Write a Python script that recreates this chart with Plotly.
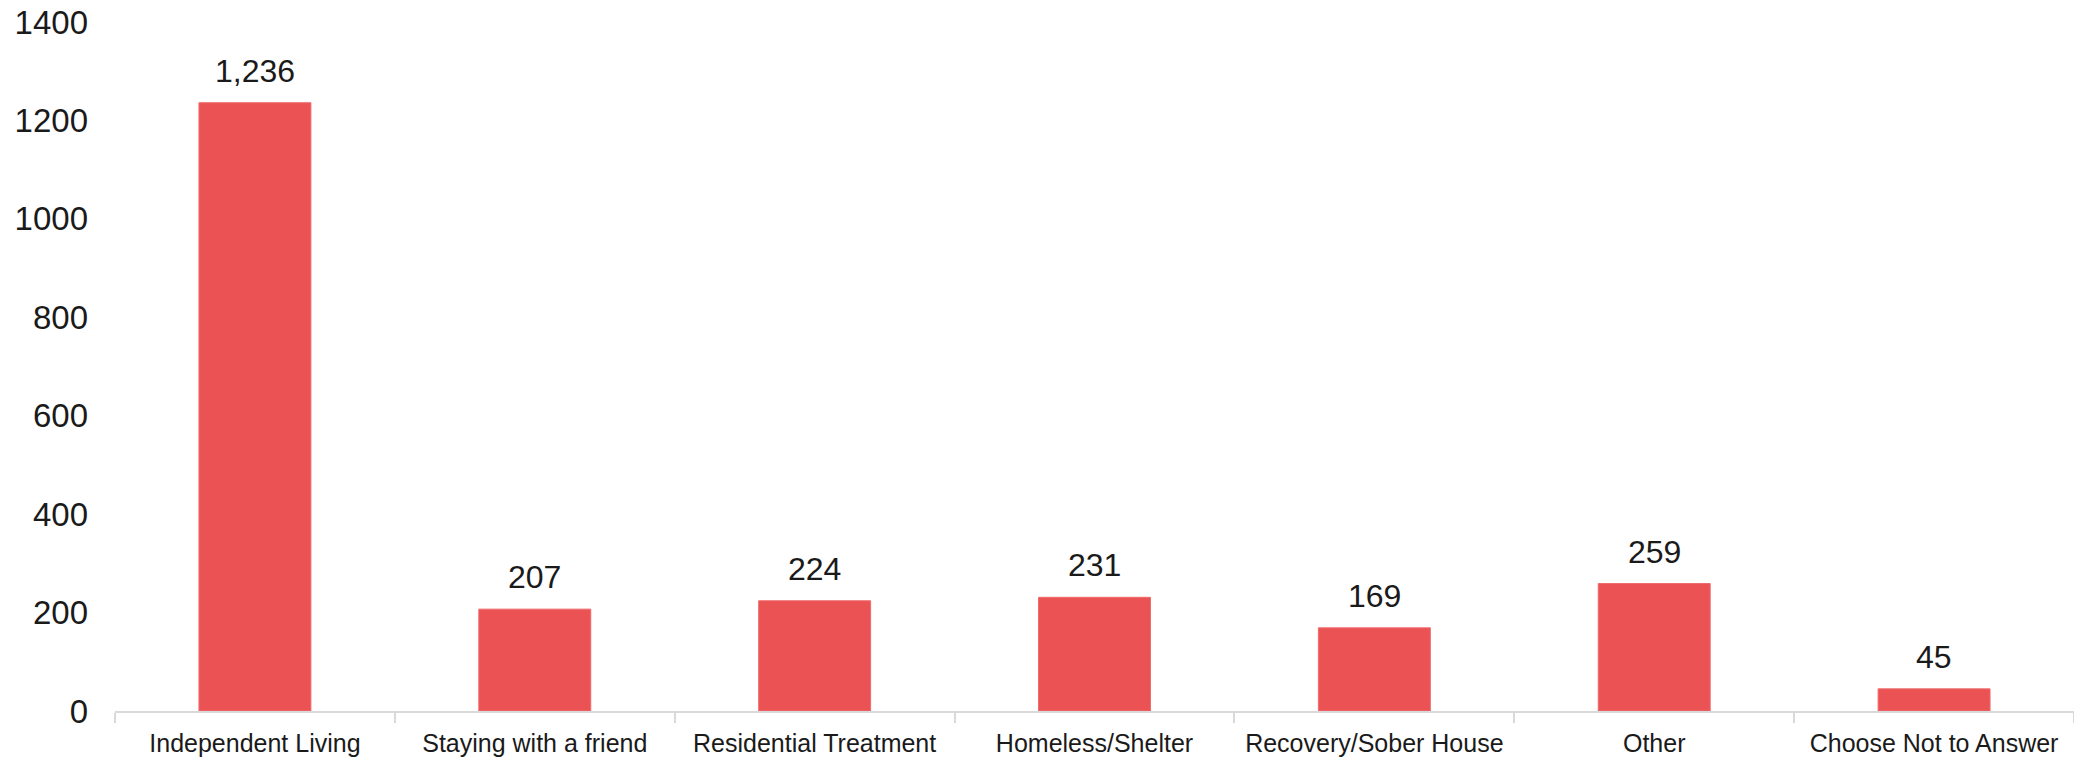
import plotly.graph_objects as go

categories = ["Independent Living", "Staying with a friend", "Residential Treatment",
              "Homeless/Shelter", "Recovery/Sober House", "Other", "Choose Not to Answer"]
values = [1236, 207, 224, 231, 169, 259, 45]
y_ticks = [0, 200, 400, 600, 800, 1000, 1200, 1400]

fig = go.Figure(go.Bar(
    x=categories, y=values,
    marker=dict(color="#EB5254", line=dict(color="#EF6B6D", width=1)),
))

for c, v in zip(categories, values):
    fig.add_annotation(x=c, y=v, text=f"{v:,}", showarrow=False, yanchor="bottom",
                       yshift=12, font=dict(size=32, color="#1a1a1a", family="Liberation Sans"))

fig.update_layout(
    width=2074, height=760,
    margin=dict(l=115, r=0, t=22, b=49, autoexpand=False),
    paper_bgcolor="white", plot_bgcolor="white",
    bargap=0.6, showlegend=False,
    font=dict(family="Liberation Sans", color="#1a1a1a"),
)
fig.update_yaxes(range=[0, 1400], tickvals=y_ticks, showgrid=False, zeroline=False,
                 showline=False, tickfont=dict(size=33), ticks="", ticklabelstandoff=26,
                 automargin=False)
fig.update_xaxes(showline=True, linecolor="#d9d9d9", linewidth=2, tickson="boundaries",
                 ticks="outside", ticklen=10, tickcolor="#d9d9d9", tickwidth=1.5,
                 tickfont=dict(size=25), ticklabelstandoff=9, showgrid=False, automargin=False)

fig.write_html("out.html", config={"displayModeBar": False},
               post_script="document.body.style.margin='0';document.body.style.overflow='hidden';")
